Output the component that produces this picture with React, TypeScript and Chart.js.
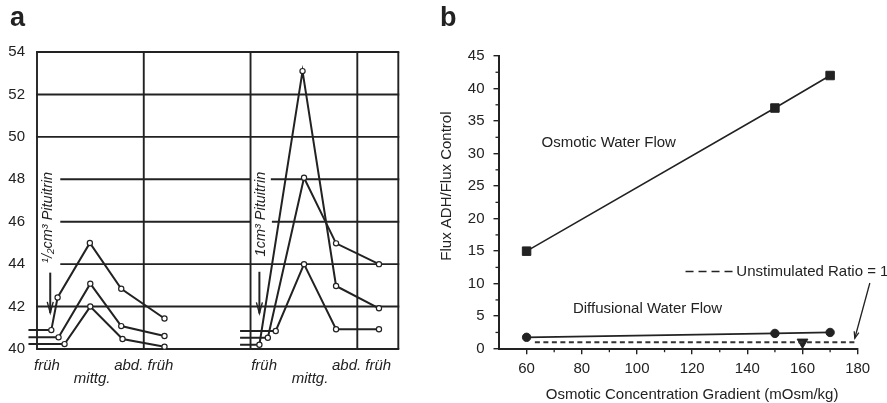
import React, { useEffect, useRef } from 'react';
import { Chart, registerables } from 'chart.js';

Chart.register(...registerables);

// ---------- Panel a (x = days, one grid column per day; y = reading) ----------
const a1Days = [-0.08, 0.134, 0.193, 0.495, 0.789, 1.194];
const a1Vals = [40.89, 40.89, 42.43, 45.0, 42.84, 41.44];
const a2Days = [-0.08, 0.202, 0.499, 0.789, 1.194];
const a2Vals = [40.55, 40.55, 43.08, 41.08, 40.61];
const a3Days = [-0.08, 0.258, 0.499, 0.801, 1.194];
const a3Vals = [40.23, 40.23, 42.0, 40.47, 40.11];
const b1Days = [1.902, 2.083, 2.487, 2.801, 3.203];
const b1Vals = [40.2, 40.2, 53.1, 42.97, 41.92];
const b2Days = [1.902, 2.162, 2.501, 2.801, 3.203];
const b2Vals = [40.53, 40.53, 48.07, 44.98, 44.0];
const b3Days = [1.902, 2.236, 2.501, 2.801, 3.203];
const b3Vals = [40.85, 40.85, 44.0, 40.93, 40.93];

const aYTicks = [40, 42, 44, 46, 48, 50, 52, 54];
const aDayLines = [1, 2, 3];
const aXLabelDays = [0.094, 0.517, 1.0, 2.127, 2.557, 3.04];
const aXLabels: string[][] = [['früh'], ['', 'mittg.'], ['abd. früh'], ['früh'], ['', 'mittg.'], ['abd. früh']];
const aDoseTexts = ['¹/₂cm³ Pituitrin', '1cm³ Pituitrin'];
const aDoseDays = [0.101, 2.102];
const aDoseVals = [46.2, 46.36];
const aArrowDays = [0.124, 2.083];
const aArrowFrom = [43.6, 43.64];
const aArrowTo = [41.7, 41.68];
const aGridGaps: Record<number, number[][]> = {
  44: [[0, 0.218]],
  46: [[0, 0.218], [2, 2.2]],
  48: [[0, 0.218], [2, 2.19]],
};

// ---------- Panel b ----------
const osmX = [60, 150, 170];
const osmY = [15, 37, 42];
const diffX = [60, 150, 170];
const diffY = [1.75, 2.35, 2.5];
const unstimX = [160];
const unstimY = [1.0];
const ratioX = [63, 179];
const ratioY = [1, 1];
const bXTickLabels = [60, 80, 100, 120, 140, 160, 180];
const bYTickLabels = [0, 5, 10, 15, 20, 25, 30, 35, 40, 45];

const FONT = '"Liberation Sans", Arial, Helvetica, sans-serif';
const INK = '#222';

const pts = (xs: number[], ys: number[]) => xs.map((x, i) => ({ x, y: ys[i] }));

function drawText(ctx: CanvasRenderingContext2D, s: string, x: number, y: number, font: string,
  align: CanvasTextAlign = 'left', rot = 0) {
  ctx.save();
  ctx.translate(x, y);
  ctx.rotate(rot);
  ctx.font = font;
  ctx.fillStyle = INK;
  ctx.textAlign = align;
  ctx.textBaseline = 'middle';
  ctx.fillText(s, 0, 0);
  ctx.restore();
}

const panelAPlugin = {
  id: 'panelA',
  beforeDatasetsDraw(chart: any) {
    const { ctx, scales: { x, y } } = chart;
    ctx.save();
    ctx.strokeStyle = INK;
    ctx.lineWidth = 1.9;
    for (const v of aYTicks) {
      const py = y.getPixelForValue(v);
      const gaps = aGridGaps[v] || [];
      const segs: number[][] = [];
      let start = x.min;
      for (const g of gaps) { segs.push([start, g[0]]); start = g[1]; }
      segs.push([start, x.max]);
      for (const s of segs) {
        if (s[1] <= s[0]) continue;
        ctx.beginPath();
        ctx.moveTo(x.getPixelForValue(s[0]) - (s[0] === x.min ? 0.95 : 0), py);
        ctx.lineTo(x.getPixelForValue(s[1]) + (s[1] === x.max ? 0.95 : 0), py);
        ctx.stroke();
      }
    }
    for (const d of [x.min, ...aDayLines, x.max]) {
      const px = x.getPixelForValue(d);
      ctx.beginPath();
      ctx.moveTo(px, y.getPixelForValue(y.max));
      ctx.lineTo(px, y.getPixelForValue(y.min));
      ctx.stroke();
    }
    ctx.restore();
  },
  afterDatasetsDraw(chart: any) {
    const { ctx, scales: { x, y } } = chart;
    aDoseTexts.forEach((t, i) => {
      drawText(ctx, t, x.getPixelForValue(aDoseDays[i]), y.getPixelForValue(aDoseVals[i]),
        `italic 14.5px ${FONT}`, 'center', -Math.PI / 2);
    });
    ctx.save();
    ctx.strokeStyle = INK;
    ctx.lineWidth = 2;
    aArrowDays.forEach((d, i) => {
      const px = x.getPixelForValue(d);
      const y0 = y.getPixelForValue(aArrowFrom[i]);
      const y1 = y.getPixelForValue(aArrowTo[i]);
      ctx.beginPath();
      ctx.moveTo(px, y0);
      ctx.lineTo(px, y1);
      ctx.stroke();
      ctx.lineWidth = 1.4;
      ctx.beginPath();
      ctx.moveTo(px - 3, y1 - 11);
      ctx.lineTo(px, y1);
      ctx.lineTo(px + 3, y1 - 11);
      ctx.stroke();
      ctx.lineWidth = 2;
    });
    ctx.restore();
    drawText(ctx, 'a', 10, 19, `bold 27px ${FONT}`, 'left');
  },
};

const panelBPlugin = {
  id: 'panelB',
  afterDatasetsDraw(chart: any) {
    const { ctx, scales: { x, y }, chartArea } = chart;
    const f15 = `15px ${FONT}`;
    // minor ticks (shorter than the major ones drawn by the axes)
    ctx.save();
    ctx.strokeStyle = INK;
    ctx.lineWidth = 1.3;
    x.ticks.forEach((t: any) => {
      if (bXTickLabels.includes(t.value) || t.value === x.min) return;
      const px = x.getPixelForValue(t.value);
      ctx.beginPath();
      ctx.moveTo(px, chartArea.bottom);
      ctx.lineTo(px, chartArea.bottom + 3.5);
      ctx.stroke();
    });
    y.ticks.forEach((t: any) => {
      if (bYTickLabels.includes(t.value)) return;
      const py = y.getPixelForValue(t.value);
      ctx.beginPath();
      ctx.moveTo(chartArea.left, py);
      ctx.lineTo(chartArea.left - 3.5, py);
      ctx.stroke();
    });
    ctx.restore();

    drawText(ctx, 'Osmotic Water Flow', x.getPixelForValue(65.4), y.getPixelForValue(31.6), f15);
    drawText(ctx, 'Diffusional Water Flow', x.getPixelForValue(76.8), y.getPixelForValue(6.1), f15);
    // legend for dashed line
    const ly = y.getPixelForValue(11.85);
    ctx.save();
    ctx.strokeStyle = INK;
    ctx.lineWidth = 1.5;
    ctx.setLineDash([8, 5]);
    ctx.beginPath();
    ctx.moveTo(x.getPixelForValue(117.6), ly);
    ctx.lineTo(x.getPixelForValue(135.2), ly);
    ctx.stroke();
    ctx.setLineDash([]);
    // pointer arrow
    const ax0 = x.getPixelForValue(184.4), ay0 = y.getPixelForValue(10.1);
    const ax1 = x.getPixelForValue(178.95), ay1 = y.getPixelForValue(1.6);
    ctx.lineWidth = 1.3;
    ctx.beginPath();
    ctx.moveTo(ax0, ay0);
    ctx.lineTo(ax1, ay1);
    ctx.stroke();
    const ang = Math.atan2(ay1 - ay0, ax1 - ax0);
    ctx.beginPath();
    ctx.moveTo(ax1 - 7 * Math.cos(ang - 0.35), ay1 - 7 * Math.sin(ang - 0.35));
    ctx.lineTo(ax1, ay1);
    ctx.lineTo(ax1 - 7 * Math.cos(ang + 0.35), ay1 - 7 * Math.sin(ang + 0.35));
    ctx.stroke();
    ctx.restore();
    drawText(ctx, 'Unstimulated Ratio = 1', x.getPixelForValue(136.0), ly, f15);
    // axis titles
    drawText(ctx, 'Flux ADH/Flux Control', chartArea.left - 52, y.getPixelForValue(25), f15, 'center', -Math.PI / 2);
    drawText(ctx, 'Osmotic Concentration Gradient (mOsm/kg)', x.getPixelForValue(120), 395, f15, 'center');
    drawText(ctx, 'b', 0, 19, `bold 27px ${FONT}`, 'left');
  },
};

function PanelA() {
  const ref = useRef<HTMLCanvasElement>(null);
  useEffect(() => {
    const line = (xs: number[], ys: number[]) => ({
      data: pts(xs, ys),
      showLine: true,
      borderColor: INK,
      borderWidth: 2,
      pointRadius: (c: any) => (c.dataIndex === 0 ? 0 : 2.6),
      pointBackgroundColor: '#fff',
      pointBorderColor: INK,
      pointBorderWidth: 1.2,
      clip: false as const,
    });
    const chart = new Chart(ref.current!, {
      type: 'scatter',
      data: {
        datasets: [
          line(a1Days, a1Vals), line(a2Days, a2Vals), line(a3Days, a3Vals),
          line(b1Days, b1Vals), line(b2Days, b2Vals), line(b3Days, b3Vals),
        ],
      },
      options: {
        responsive: false,
        animation: false,
        events: [],
        layout: { padding: { top: 52, right: 41.7, left: 0, bottom: 0 } },
        plugins: { legend: { display: false }, tooltip: { enabled: false } },
        scales: {
          x: {
            type: 'linear',
            min: 0,
            max: 3.384,
            afterFit: (s: any) => { s.height = 54; },
            afterBuildTicks: (s: any) => { s.ticks = aXLabelDays.map((v) => ({ value: v })); },
            grid: { display: false, drawTicks: false },
            border: { display: false },
            ticks: {
              autoSkip: false,
              maxRotation: 0,
              minRotation: 0,
              padding: 10,
              color: INK,
              font: { family: FONT, size: 15, style: 'italic', lineHeight: 0.89 },
              callback: (_v: any, i: number) => aXLabels[i],
            },
          },
          y: {
            min: 40,
            max: 54,
            afterFit: (s: any) => { s.width = 37; },
            afterBuildTicks: (s: any) => { s.ticks = aYTicks.map((v) => ({ value: v })); },
            grid: { display: false, drawTicks: false },
            border: { display: false },
            ticks: { padding: 12, color: INK, font: { family: FONT, size: 15 } },
          },
        },
      },
      plugins: [panelAPlugin],
    });
    return () => chart.destroy();
  }, []);
  return <canvas ref={ref} width={440} height={403} style={{ width: 440, height: 403, display: 'block' }} />;
}

function PanelB() {
  const ref = useRef<HTMLCanvasElement>(null);
  useEffect(() => {
    const major = (c: any) => (c.tick && (bXTickLabels.includes(c.tick.value) || bYTickLabels.includes(c.tick.value)) ? INK : 'rgba(0,0,0,0)');
    const chart = new Chart(ref.current!, {
      type: 'scatter',
      data: {
        datasets: [
          {
            data: pts(osmX, osmY), showLine: true, borderColor: INK, borderWidth: 1.6,
            pointStyle: 'rect', pointRadius: 6, pointBackgroundColor: INK, pointBorderColor: INK, pointBorderWidth: 1,
          },
          {
            data: pts(diffX, diffY), showLine: true, borderColor: INK, borderWidth: 1.8,
            pointStyle: 'circle', pointRadius: 4.2, pointBackgroundColor: INK, pointBorderColor: INK, pointBorderWidth: 1,
          },
          {
            data: pts(ratioX, ratioY), showLine: true, borderColor: '#333', borderWidth: 2,
            borderDash: [5, 3.5], pointRadius: 0,
          },
          {
            data: pts(unstimX, unstimY), showLine: false, pointStyle: 'triangle', rotation: 180,
            pointRadius: 6.2, pointBackgroundColor: INK, pointBorderColor: INK, pointBorderWidth: 1,
          },
        ],
      },
      options: {
        responsive: false,
        animation: false,
        events: [],
        layout: { padding: { top: 56, right: 29.3, left: 0, bottom: 0 } },
        plugins: { legend: { display: false }, tooltip: { enabled: false } },
        scales: {
          x: {
            type: 'linear',
            min: 50,
            max: 180,
            afterFit: (s: any) => { s.height = 54.3; },
            grid: { drawOnChartArea: false, drawTicks: true, tickLength: 5.5, color: major, lineWidth: 1.4 },
            border: { display: true, color: INK, width: 2 },
            ticks: {
              stepSize: 10,
              autoSkip: false,
              maxRotation: 0,
              padding: 6,
              color: INK,
              font: { family: FONT, size: 15 },
              callback: (v: any) => (bXTickLabels.includes(v) ? String(v) : ''),
            },
          },
          y: {
            min: 0,
            max: 45,
            afterFit: (s: any) => { s.width = 59; },
            grid: { drawOnChartArea: false, drawTicks: true, tickLength: 5.5, color: major, lineWidth: 1.4 },
            border: { display: true, color: INK, width: 2 },
            ticks: {
              stepSize: 2.5,
              autoSkip: false,
              padding: 9,
              color: INK,
              font: { family: FONT, size: 15 },
              callback: (v: any) => (bYTickLabels.includes(v) ? String(v) : ''),
            },
          },
        },
      },
      plugins: [panelBPlugin],
    });
    return () => chart.destroy();
  }, []);
  return <canvas ref={ref} width={447} height={403} style={{ width: 447, height: 403, display: 'block' }} />;
}

export default function App() {
  return (
    <div style={{ position: 'absolute', left: 0, top: 0, width: 887, height: 403, background: '#fff' }}>
      <div style={{ position: 'absolute', left: 0, top: 0, width: 440, height: 403 }}>
        <PanelA />
      </div>
      <div style={{ position: 'absolute', left: 440, top: 0, width: 447, height: 403 }}>
        <PanelB />
      </div>
    </div>
  );
}
